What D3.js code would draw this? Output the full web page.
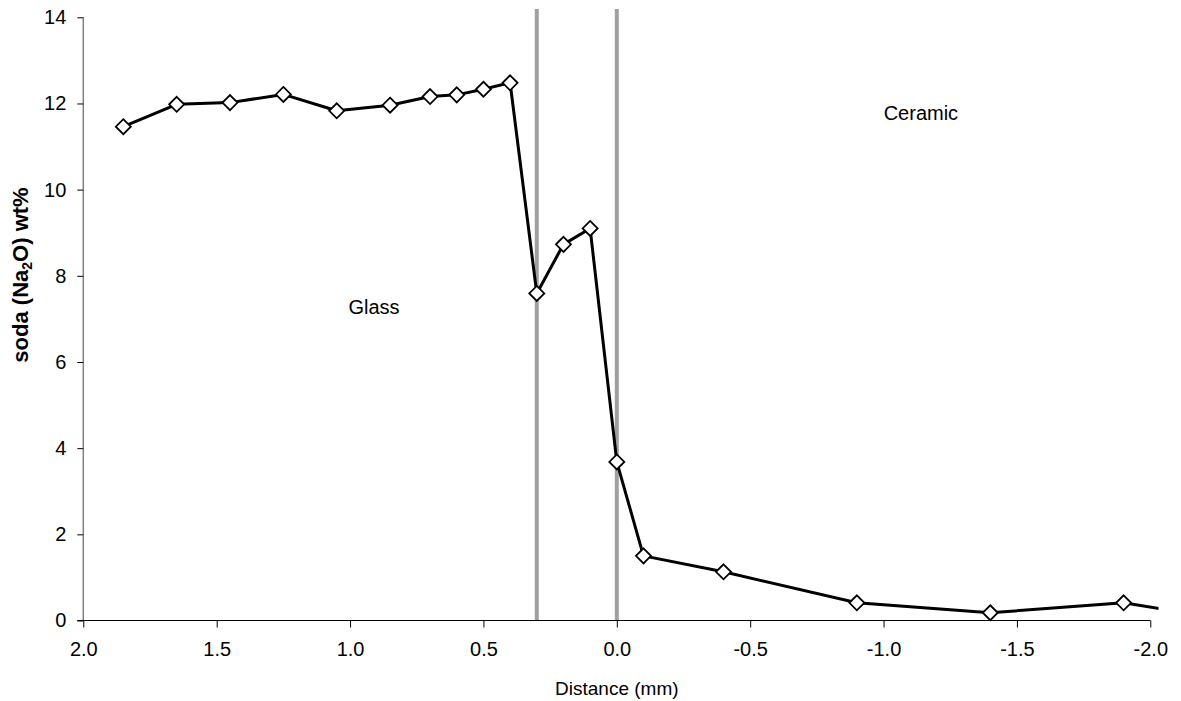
<!DOCTYPE html>
<html>
<head>
<meta charset="utf-8">
<script src="https://cdn.jsdelivr.net/npm/d3@7"></script>
<style>
  body { margin: 0; background: #fff; }
  svg { font-family: "Liberation Sans", Arial, sans-serif; }
</style>
</head>
<body>
<svg id="chart" width="1181" height="701"></svg>
<script>
// distance from the interface (mm) and soda content (wt%)
const distance = [1.85, 1.65, 1.45, 1.25, 1.05, 0.85, 0.70, 0.60, 0.50, 0.40,
                  0.30, 0.20, 0.10, 0.00, -0.10, -0.40, -0.90, -1.40, -1.90, -2.10];
const soda = [11.46, 11.98, 12.02, 12.21, 11.83, 11.96, 12.16, 12.20, 12.33, 12.48,
              7.59, 8.73, 9.10, 3.68, 1.50, 1.13, 0.41, 0.18, 0.41, 0.21];
const xTicks = [2.0, 1.5, 1.0, 0.5, 0.0, -0.5, -1.0, -1.5, -2.0];
const yTicks = [0, 2, 4, 6, 8, 10, 12, 14];
const boundaries = [0.3, 0.0];
const regionLabels = [
  { text: "Glass", x: 0.91, y: 7.12 },
  { text: "Ceramic", x: -1.14, y: 11.62 }
];

const points = distance.map((d, i) => ({ x: d, y: soda[i] }));

// plot area edges (px)
const pLeft = 83.3, pRight = 1150.3, pTop = 17.3, pBottom = 620.5;

const x = d3.scaleLinear().domain([2, -2]).range([pLeft, pRight]);
const y = d3.scaleLinear().domain([0, 14]).range([pBottom, pTop]);

const svg = d3.select("#chart");

// clip so the last segment stops just past the end of the axis
svg.append("defs").append("clipPath").attr("id", "plotclip")
  .append("rect").attr("x", pLeft).attr("y", 0)
  .attr("width", 1158.5 - pLeft).attr("height", pBottom + 2);

// grey boundary lines
svg.selectAll(".boundary")
  .data(boundaries)
  .join("line")
  .attr("class", "boundary")
  .attr("x1", d => x(d)).attr("x2", d => x(d))
  .attr("y1", 9).attr("y2", pBottom)
  .attr("stroke", "#a0a0a0")
  .attr("stroke-width", 4);

// y axis
const yAxis = svg.append("g")
  .attr("transform", `translate(${pLeft},0)`)
  .call(d3.axisLeft(y).tickValues(yTicks).tickSize(6).tickPadding(11).tickFormat(d3.format("d")));
yAxis.select(".domain").attr("stroke", "#808080").attr("stroke-width", 1.5).attr("d", `M0,${pTop}V${pBottom}`);
yAxis.selectAll(".tick line").attr("stroke", "#000");
yAxis.selectAll("text").attr("font-size", 20).attr("fill", "#000")
  .attr("font-family", "Liberation Sans, Arial, sans-serif");

// x axis, plain hyphen for negatives like the original
const fmtX = d => d3.format(".1f")(d).replace("\u2212", "-");
const xAxis = svg.append("g")
  .attr("transform", `translate(0,${pBottom})`)
  .call(d3.axisBottom(x).tickValues(xTicks).tickSize(7).tickPadding(14).tickFormat(fmtX));
xAxis.select(".domain").attr("stroke", "#000").attr("stroke-width", 1.2).attr("d", `M${pLeft - 6},0H${pRight}`);
xAxis.selectAll(".tick line").attr("stroke", "#000");
xAxis.selectAll("text").attr("font-size", 20).attr("fill", "#000")
  .attr("font-family", "Liberation Sans, Arial, sans-serif");

// data line
const line = d3.line().x(d => x(d.x)).y(d => y(d.y));
svg.append("path")
  .datum(points)
  .attr("clip-path", "url(#plotclip)")
  .attr("d", line)
  .attr("fill", "none")
  .attr("stroke", "#000")
  .attr("stroke-width", 3)
  .attr("stroke-linejoin", "round");

// diamond markers
const s = 7.5;
svg.selectAll(".marker")
  .data(points.filter(d => d.x >= -2))
  .join("path")
  .attr("class", "marker")
  .attr("transform", d => `translate(${x(d.x)},${y(d.y)})`)
  .attr("d", `M0,${-s}L${s},0L0,${s}L${-s},0Z`)
  .attr("fill", "#fff")
  .attr("stroke", "#000")
  .attr("stroke-width", 1.8);

// region labels
svg.selectAll(".region")
  .data(regionLabels)
  .join("text")
  .attr("class", "region")
  .attr("x", d => x(d.x)).attr("y", d => y(d.y))
  .attr("text-anchor", "middle")
  .attr("font-size", 20)
  .text(d => d.text);

// axis titles
svg.append("text")
  .attr("x", x(0)).attr("y", 695)
  .attr("text-anchor", "middle")
  .attr("font-size", 19)
  .text("Distance (mm)");

const yTitle = svg.append("text")
  .attr("transform", "translate(28,275) rotate(-90)")
  .attr("text-anchor", "middle")
  .attr("font-size", 22)
  .attr("font-weight", "bold");
yTitle.append("tspan").text("soda (Na");
yTitle.append("tspan").attr("font-size", 14).attr("dy", 4).text("2");
yTitle.append("tspan").attr("dy", -4).text("O) wt%");
</script>
</body>
</html>
